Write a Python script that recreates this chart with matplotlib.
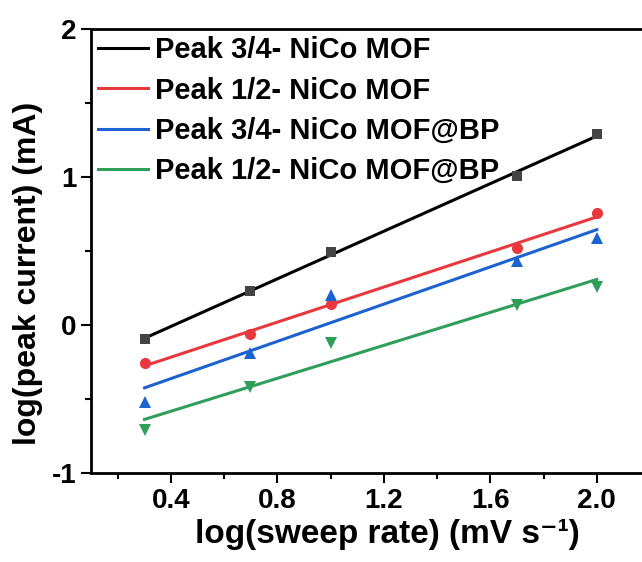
import numpy as np
import matplotlib
matplotlib.use("Agg")
import matplotlib.pyplot as plt

plt.rcParams['font.family'] = ['Liberation Sans', 'DejaVu Sans']
plt.rcParams['font.weight'] = 'bold'
plt.rcParams['axes.unicode_minus'] = False

# log of sweep rates 2, 5, 10, 50, 100 mV/s
log_rate = np.log10([2, 5, 10, 50, 100])

peak34_mof = [-0.095, 0.23, 0.49, 1.01, 1.29]
peak12_mof = [-0.257, -0.06, 0.14, 0.52, 0.76]
peak34_bp = [-0.52, -0.19, 0.205, 0.43, 0.59]
peak12_bp = [-0.71, -0.42, -0.12, 0.135, 0.26]

labels = ['Peak 3/4- NiCo MOF', 'Peak 1/2- NiCo MOF',
          'Peak 3/4- NiCo MOF@BP', 'Peak 1/2- NiCo MOF@BP']
series = [peak34_mof, peak12_mof, peak34_bp, peak12_bp]
line_colors = ['#000000', '#e8383d', '#1c63d0', '#2f9e5b']
marker_colors = ['#444444', '#e8383d', '#1c63d0', '#2f9e5b']
markers = ['s', 'o', '^', 'v']
msizes = [7, 8, 8.5, 8.5]

fig = plt.figure(figsize=(6.42, 5.62), dpi=100)
ax = fig.add_axes([91 / 642, 1 - 473 / 562, 559 / 642, 444 / 562])

for y, lab, lc, mc, m, ms in zip(series, labels, line_colors, marker_colors, markers, msizes):
    ax.plot(log_rate, y, linestyle='none', marker=m, ms=ms, color=mc,
            markeredgewidth=0, zorder=3)
    # linear fit over the measured range
    slope, icpt = np.polyfit(log_rate, y, 1)
    xs = np.array([log_rate[0], log_rate[-1]])
    ax.plot(xs, slope * xs + icpt, color=lc, lw=2.2, label=lab, zorder=2)

ax.set_xlim(0.1, 2.2)
ax.set_ylim(-1, 2)
ax.set_xticks([0.4, 0.8, 1.2, 1.6, 2.0])
ax.set_xticks([0.2, 0.6, 1.0, 1.4, 1.8], minor=True)
ax.set_yticks([-1, 0, 1, 2])
ax.set_yticks([-0.5, 0.5, 1.5], minor=True)
ax.set_xticklabels(['0.4', '0.8', '1.2', '1.6', '2.0'])
ax.tick_params(which='both', direction='out', width=1.5, labelsize=20)
ax.tick_params(which='major', length=7)
ax.tick_params(which='minor', length=4)
for s in ['left', 'bottom', 'top']:
    ax.spines[s].set_linewidth(2.0)
ax.spines['right'].set_visible(False)
ax.tick_params(top=False)

ax.set_xlabel('log(sweep rate) (mV s\u207b\u00b9)', fontsize=24, fontweight='bold')
ax.xaxis.set_label_coords(0.531, -0.103)
ax.set_ylabel('log(peak current) (mA)', fontsize=23, fontweight='bold')
ax.yaxis.set_label_coords(-0.086, 0.45)

ax.legend(loc='upper left', bbox_to_anchor=(0.0, 1.0), frameon=False,
          fontsize=21, handlelength=1.7, handletextpad=0.25,
          labelspacing=0.42, borderaxespad=0.1, borderpad=0.15)

fig.savefig('out.png', dpi=100)
